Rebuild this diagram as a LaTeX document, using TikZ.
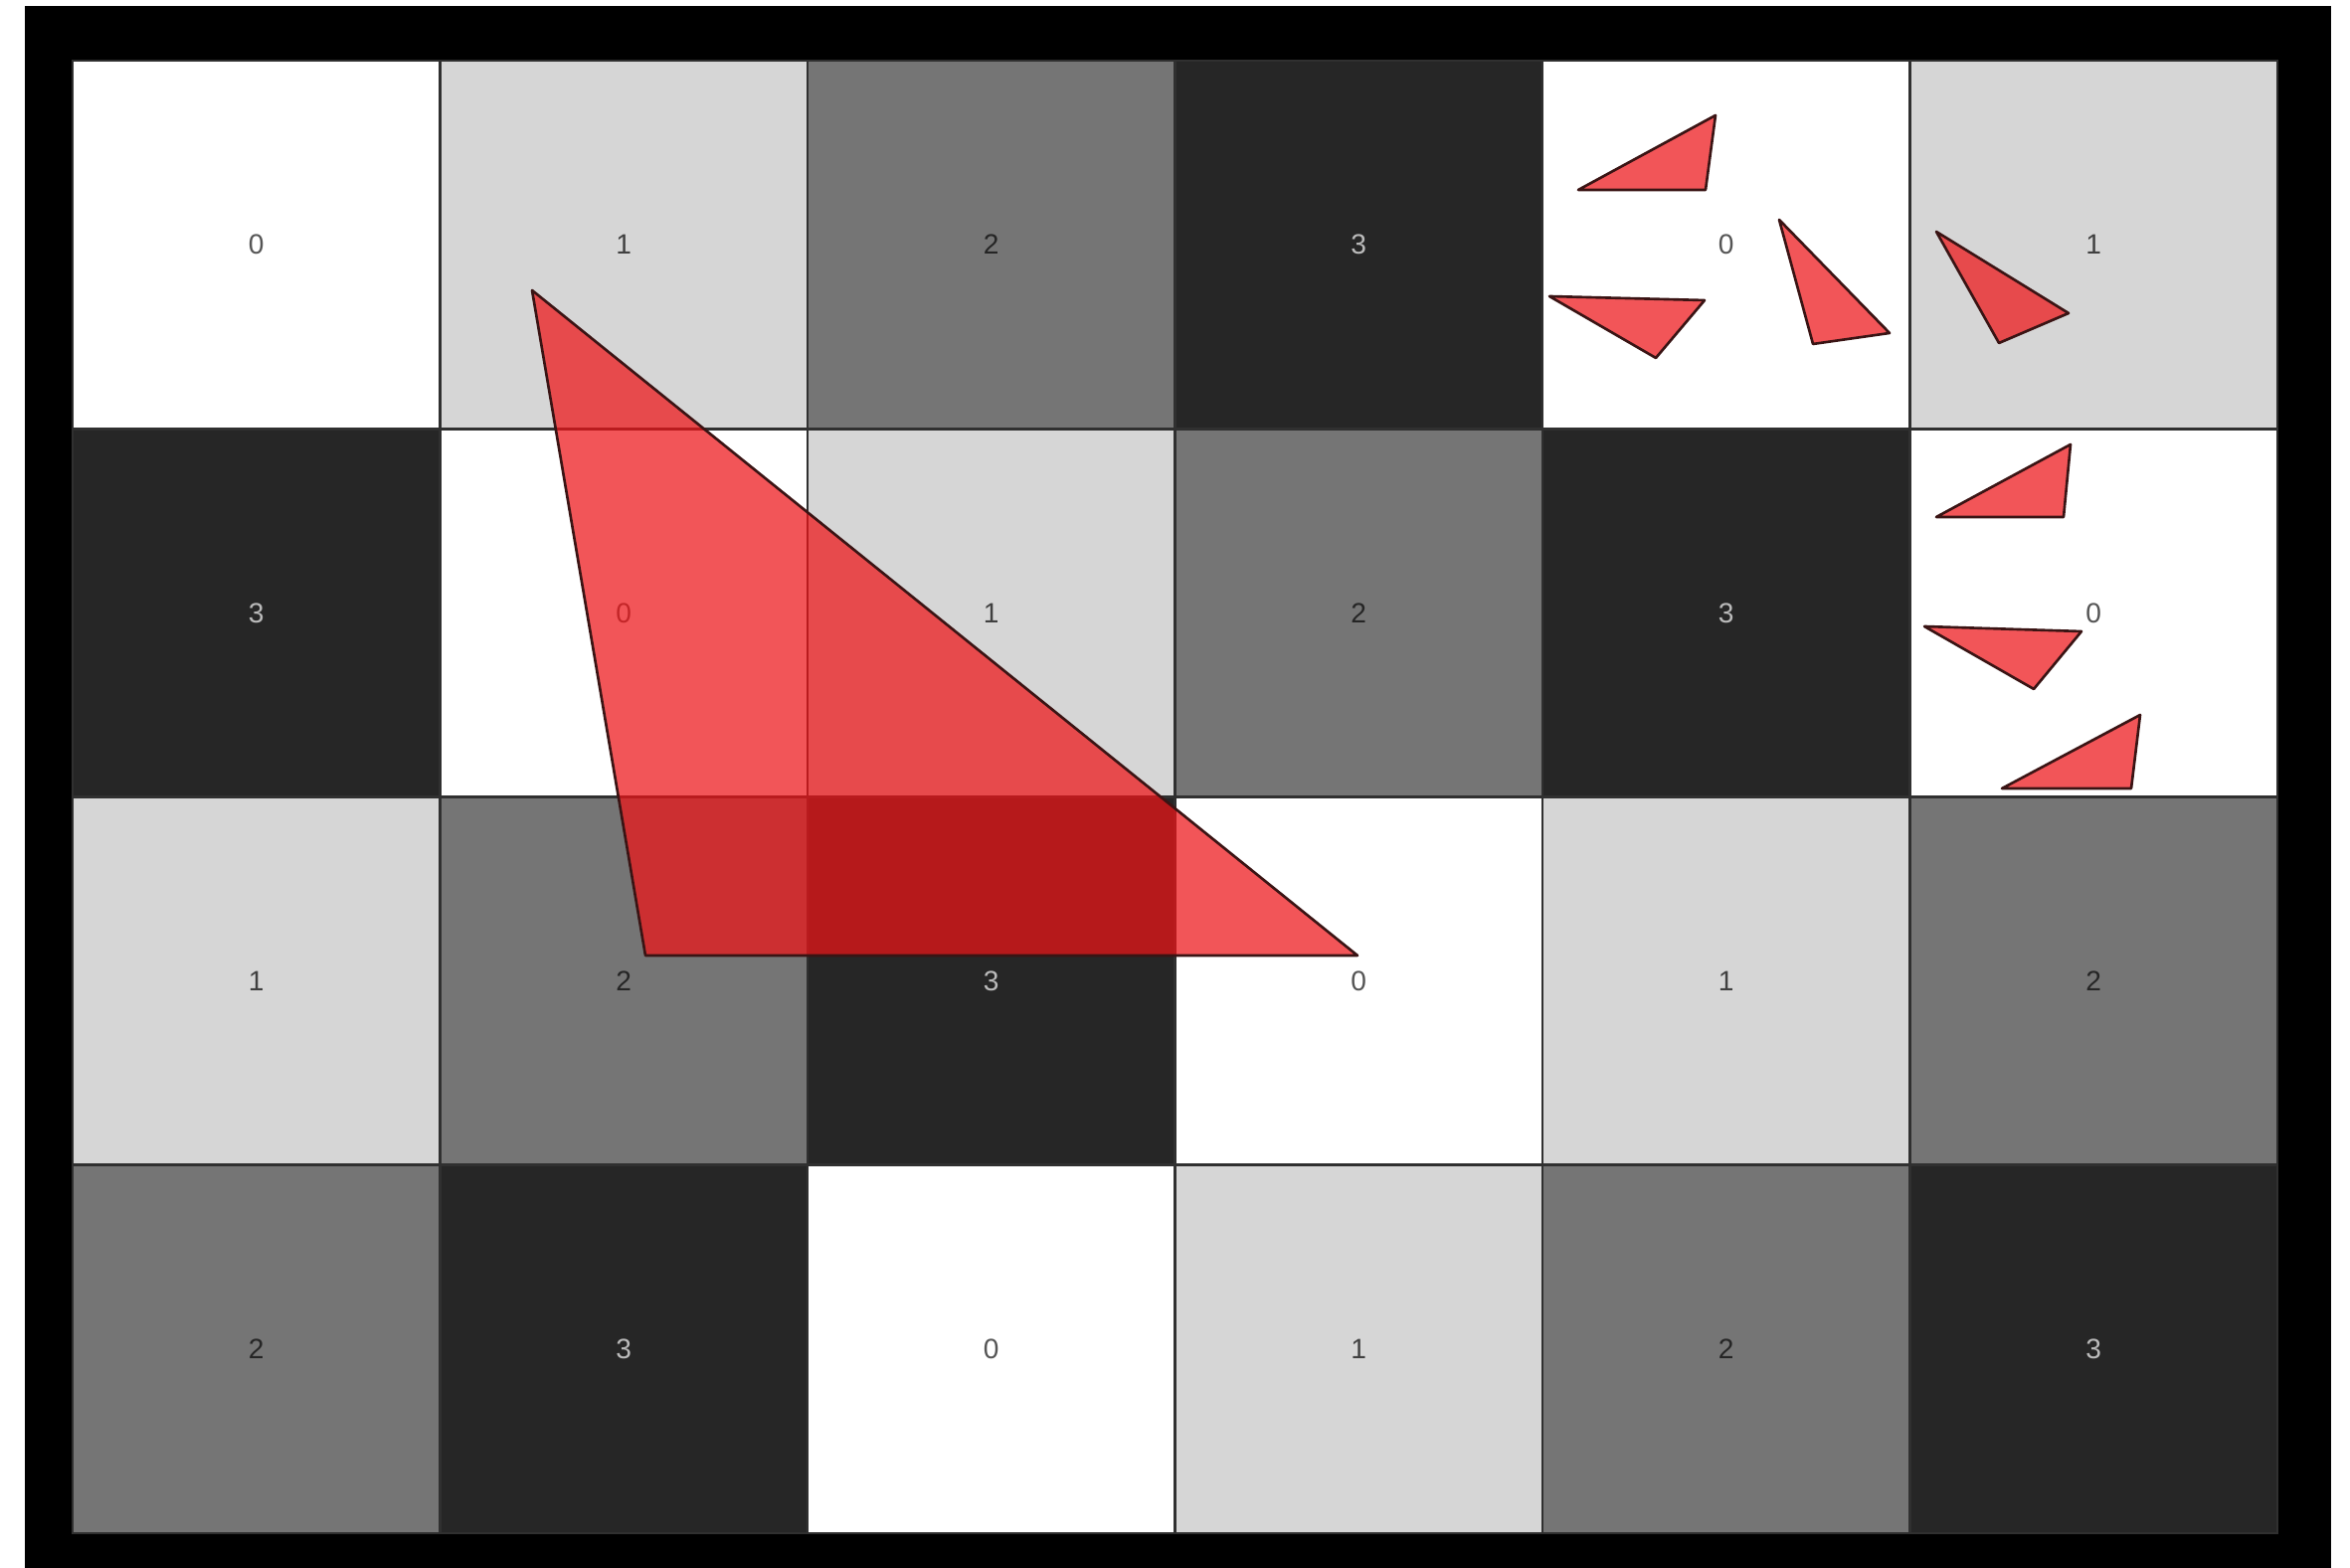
\documentclass[tikz,border=0pt]{standalone}
\usepackage{fontspec}
\setmainfont{Liberation Sans}
\definecolor{c0}{HTML}{FFFFFF}
\definecolor{c1}{HTML}{D6D6D6}
\definecolor{c2}{HTML}{757575}
\definecolor{c3}{HTML}{262626}
\definecolor{t0}{HTML}{555555}
\definecolor{t1}{HTML}{404040}
\definecolor{t2}{HTML}{252525}
\definecolor{t3}{HTML}{BBBBBB}
\definecolor{gridc}{HTML}{303030}
\definecolor{trired}{RGB}{238,20,24}
\definecolor{triedge}{HTML}{3A1414}
\tikzset{
  cellbox/.style={draw=gridc, line width=0.8pt},
  lbl/.style={inner sep=0pt, font=\fontsize{8}{9}\selectfont},
  tri/.style={fill=trired, fill opacity=0.72, draw=triedge, line width=0.75pt, line join=round}
}
\begin{document}
\begin{tikzpicture}[x=0.01cm,y=-0.01cm]
\useasboundingbox (0,0) rectangle (2363,1577);
\fill[white] (0,0) rectangle (2363,1577);
\fill[black] (25,6) rectangle (2344,1577);
\foreach \r/\vals in {0/{0,1,2,3,0,1},1/{3,0,1,2,3,0},2/{1,2,3,0,1,2},3/{2,3,0,1,2,3}} {
  \foreach \v [count=\c from 0] in \vals {
    \pgfmathsetmacro\xa{73+\c*369.5}
    \pgfmathsetmacro\xb{73+(\c+1)*369.5}
    \pgfmathsetmacro\ya{61+\r*370.25}
    \pgfmathsetmacro\yb{61+(\r+1)*370.25}
    \pgfmathsetmacro\xm{73+(\c+0.5)*369.5}
    \pgfmathsetmacro\ym{61+(\r+0.5)*370.25}
    \draw[cellbox, fill=c\v] (\xa,\ya) rectangle (\xb,\yb);
    \node[lbl, text=t\v] (n\r\c) at (\xm,\ym) {\v};
  }
}
% large triangle
\filldraw[tri] (535,292) -- (649,961) -- (1365,961) -- cycle;
% small triangles
\filldraw[tri] (1587,191) -- (1725,116) -- (1715,191) -- cycle;
\filldraw[tri] (1558,298) -- (1714,302) -- (1665,360) -- cycle;
\filldraw[tri] (1789,221) -- (1900,335) -- (1823,346) -- cycle;
\filldraw[tri] (1947,233) -- (2080,315) -- (2010,345) -- cycle;
\filldraw[tri] (1947,520) -- (2082,447) -- (2075,520) -- cycle;
\filldraw[tri] (1935,630) -- (2093,635) -- (2045,693) -- cycle;
\filldraw[tri] (2013,793) -- (2152,719) -- (2143,793) -- cycle;
\end{tikzpicture}
\end{document}
